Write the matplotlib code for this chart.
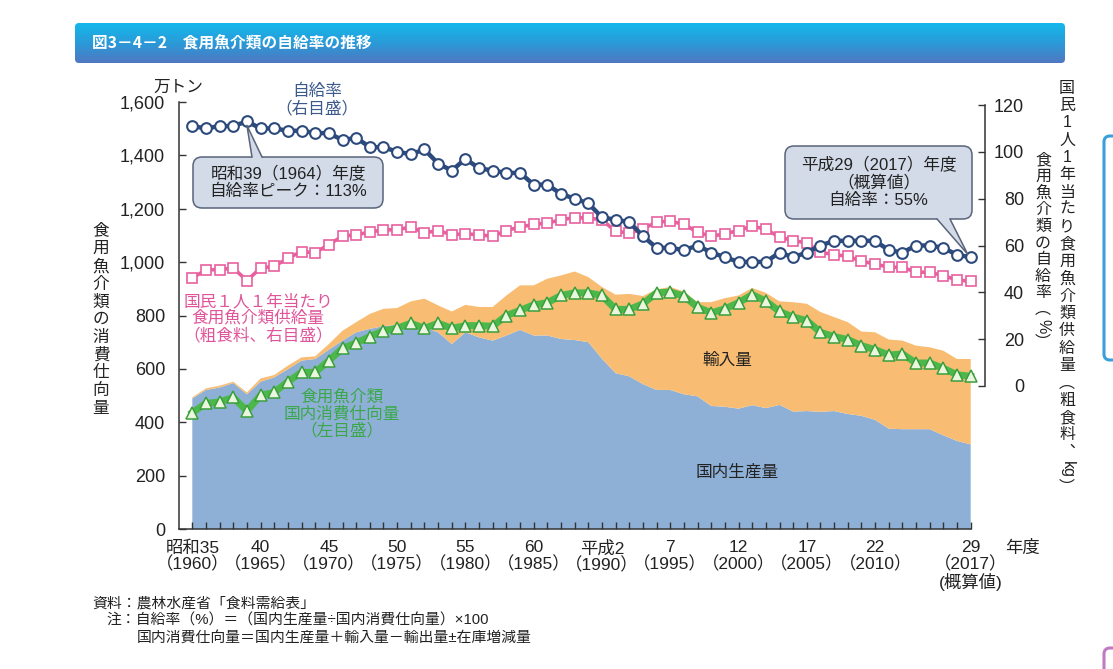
import numpy as np
import matplotlib
matplotlib.use('Agg')
import matplotlib.pyplot as plt
from matplotlib.patches import FancyBboxPatch, Polygon
from matplotlib.colors import LinearSegmentedColormap

plt.rcParams['font.family'] = ['Liberation Sans', 'Noto Sans CJK JP', 'DejaVu Sans']

# ---------------- data ----------------
years = list(range(1960, 2018))

# 国内生産量 (万トン)
production = [489, 521, 530, 547, 505, 552, 568, 599, 631, 637,
              672, 706, 737, 750, 760, 765, 762, 756, 737, 693,
              737, 718, 706, 725, 746, 725, 725, 712, 708, 700,
              638, 584, 572, 543, 521, 521, 505, 497, 461, 458,
              451, 464, 453, 465, 440, 442, 439, 442, 431, 424,
              409, 376, 374, 374, 374, 351, 330, 317]
# 輸入量 (stacked on production, 万トン)
imports = [4, 6, 7, 5, 7, 12, 9, 13, 12, 10,
           21, 37, 38, 56, 65, 63, 91, 107, 101, 122,
           103, 114, 126, 150, 167, 188, 213, 238, 257, 244,
           269, 294, 309, 330, 377, 386, 385, 353, 389, 407,
           424, 439, 432, 388, 410, 402, 374, 352, 344, 316,
           328, 334, 332, 313, 307, 317, 307, 320]
# 食用魚介類 国内消費仕向量 (万トン)
consumption = [436, 471, 476, 493, 442, 501, 512, 552, 587, 587,
               631, 677, 697, 721, 743, 752, 771, 752, 771, 752,
               762, 762, 760, 800, 819, 840, 848, 875, 885, 885,
               875, 823, 823, 844, 885, 888, 873, 831, 810, 825,
               848, 878, 854, 815, 794, 781, 737, 721, 710, 687,
               672, 652, 656, 622, 622, 602, 578, 572]
# 自給率 (%)
self_rate = [111, 110, 111, 111, 113, 110, 110, 109, 109, 108,
             108, 105, 106, 102, 102, 100, 99, 101, 95, 92,
             97, 93, 92, 91, 91, 86, 86, 82, 80, 78,
             72, 71, 70, 64, 59, 59, 58, 60, 57, 55,
             53, 53, 53, 57, 55, 57, 60, 62, 62, 62,
             62, 58, 57, 60, 60, 59, 56, 55]
# 国民1人1年当たり食用魚介類供給量 (粗食料, kg)
per_capita = [46.1, 49.6, 49.7, 50.4, 45.0, 50.4, 51.1, 54.6, 57.4, 56.9,
              60.4, 64.0, 64.6, 65.7, 66.7, 66.7, 67.9, 65.4, 66.4, 64.6,
              65.0, 64.6, 63.9, 66.4, 67.9, 69.0, 69.6, 71.0, 71.9, 71.7,
              71.0, 66.0, 65.4, 67.1, 70.0, 70.4, 69.0, 65.7, 63.9, 65.0,
              66.4, 68.3, 66.9, 63.6, 62.1, 61.1, 57.1, 56.1, 55.4, 53.3,
              52.1, 50.7, 50.7, 48.6, 48.6, 47.1, 45.3, 44.7]

label_years = [1960, 1965, 1970, 1975, 1980, 1985, 1990, 1995, 2000, 2005, 2010, 2017]
label_texts = ['昭和35\n（1960）', '40\n（1965）', '45\n（1970）', '50\n（1975）',
               '55\n（1980）', '60\n（1985）', '平成2\n（1990）', '7\n（1995）',
               '12\n（2000）', '17\n（2005）', '22\n（2010）', '29\n（2017）\n(概算値)']
left_ticks = [0, 200, 400, 600, 800, 1000, 1200, 1400, 1600]
right_ticks = [0, 20, 40, 60, 80, 100, 120]

# ---------------- colours ----------------
C_PROD = '#8fb0d6'
C_IMP = '#f8bd72'
C_GREEN = '#4cb84c'
C_GREEN_D = '#3a9e3c'
C_NAVY = '#2c4a7c'
C_PINK = '#e8609e'
C_TXT = '#222222'

W, H = 1113, 669
fig = plt.figure(figsize=(W / 100, H / 100), dpi=100)
fig.patch.set_facecolor('white')


def fx(x):
    return x / W


def fy(y):
    return 1 - y / H


# ---------------- background overlay (title bar, page decorations) ----------------
bg = fig.add_axes([0, 0, 1, 1], zorder=0)
bg.axis('off')
grad = np.linspace(0, 1, 64).reshape(-1, 1)
cmap = LinearSegmentedColormap.from_list('tb', ['#14b8ec', '#2a9ad8', '#4f78c2'])
im = bg.imshow(grad, cmap=cmap, extent=(75, 1065, 63, 23), aspect='auto', zorder=1)
bar = FancyBboxPatch((75, 23), 990, 40, boxstyle='round,pad=0,rounding_size=4',
                     facecolor='none', edgecolor='none')
bg.add_patch(bar)
im.set_clip_path(bar)
bg.add_patch(FancyBboxPatch((1104, 136), 40, 224, boxstyle='round,pad=0,rounding_size=6',
                            facecolor='white', edgecolor='#3aa0dc', lw=2.2))
bg.add_patch(FancyBboxPatch((1104, 648), 40, 80, boxstyle='round,pad=0,rounding_size=6',
                            facecolor='white', edgecolor='#c07ac4', lw=2.2))
bg.set_xlim(0, W)
bg.set_ylim(H, 0)
bg.text(92, 43, '図3－4－2　食用魚介類の自給率の推移', color='white', fontsize=11.3,
        fontweight='bold', va='center', ha='left', family=['Noto Sans CJK JP'])

# ---------------- main axes (left scale) ----------------
PITCH = 13.656
X0 = 1960 - (192.3 - 179) / PITCH
ax = fig.add_axes([fx(179), fy(529), (971 - 179) / W, (529 - 102) / H], zorder=1)
ax.set_facecolor('none')
ax.stackplot(years, production, imports, colors=[C_PROD, C_IMP], linewidth=0)
ax.plot(years, consumption, color=C_GREEN, lw=5, marker='^', ms=8.3,
        mfc='#eaf7de', mec=C_GREEN_D, mew=1.1, zorder=4, clip_on=False)
ax.set_xlim(X0, X0 + (971 - 179) / PITCH)
ax.set_ylim(0, 1600)
for s in ['top', 'right']:
    ax.spines[s].set_visible(False)
for s in ['left', 'bottom']:
    ax.spines[s].set_color('#333333')
    ax.spines[s].set_linewidth(1.1)
ax.set_yticks(left_ticks)
ax.set_yticklabels([f'{v:,}' for v in left_ticks])
ax.tick_params(axis='y', direction='in', length=5, width=1, pad=10, labelsize=13,
               labelcolor=C_TXT, color='#333333')
ax.set_xticks(label_years)
ax.set_xticklabels(label_texts, linespacing=1.05)
ax.set_xticks(years, minor=True)
ax.tick_params(axis='x', which='both', direction='in', length=5, width=1, color='#333333')
ax.tick_params(axis='x', which='major', pad=8, labelsize=12.5, labelcolor=C_TXT)

# ---------------- right-scale axes ----------------
ax2 = fig.add_axes([fx(179), fy(386), (985 - 179) / W, (386 - 105) / H], zorder=2)
ax2.set_facecolor('none')
ax2.plot(years, per_capita, color=C_PINK, lw=2.6, marker='s', ms=6.6, mfc='white',
         mec=C_PINK, mew=1.2, clip_on=False, zorder=3)
ax2.plot(years, self_rate, color=C_NAVY, lw=3.2, marker='o', ms=7.7, mfc='white',
         mec=C_NAVY, mew=1.5, clip_on=False, zorder=4)
ax2.set_xlim(X0, X0 + (985 - 179) / PITCH)
ax2.set_ylim(0, 120)
for s in ['top', 'left', 'bottom']:
    ax2.spines[s].set_visible(False)
ax2.spines['right'].set_color('#333333')
ax2.spines['right'].set_linewidth(1.1)
ax2.set_xticks([])
ax2.yaxis.tick_right()
ax2.set_yticks(right_ticks)
ax2.tick_params(axis='y', direction='in', length=5, width=1, pad=28, labelsize=13,
                labelcolor=C_TXT, color='#333333')
for lbl in ax2.get_yticklabels():
    lbl.set_ha('right')

# ---------------- top overlay (texts, callouts) ----------------
ov = fig.add_axes([0, 0, 1, 1], zorder=5)
ov.set_facecolor('none')
ov.axis('off')
ov.set_xlim(0, W)
ov.set_ylim(H, 0)


def to_px(axis, x, y):
    dx, dy = axis.transData.transform((x, y))
    return dx, H - dy


def vtext(x, y0, chars, pitch, rot=(), **kw):
    for i, c in enumerate(chars):
        ov.text(x, y0 + i * pitch, c, ha='center', va='center',
                rotation=-90 if i in rot else 0, **kw)


ov.text(178, 87, '万トン', fontsize=12, color=C_TXT, ha='center', va='center')
vtext(101, 231, list('食用魚介類の消費仕向量'), 17.7, fontsize=12, color=C_TXT)
col1 = list('国民1人1年当たり食用魚介類供給量') + ['︵', '粗', '食', '料', '︑', 'kg', '︶']
vtext(1067, 88, col1, 17.35, rot=(22,), fontsize=11.5, color=C_TXT)
col2 = list('食用魚介類の自給率') + ['︵', '%', '︶']
vtext(1043, 160, col2, 16.6, rot=(10,), fontsize=11.5, color=C_TXT)
ov.text(1022, 548, '年度', fontsize=12.5, color=C_TXT, ha='center', va='center')

ov.text(317, 100, '自給率\n（右目盛）', fontsize=12, color='#3d5a8c', ha='center',
        va='center', linespacing=1.1)
ov.text(258, 318, '国民１人１年当たり\n食用魚介類供給量\n（粗食料、右目盛）', fontsize=12,
        color='#e0559a', ha='center', va='center', linespacing=1.1)
ov.text(342, 414, '食用魚介類\n国内消費仕向量\n（左目盛）', fontsize=12,
        color='#3aa848', ha='center', va='center', linespacing=1.1)
ov.text(727, 360, '輸入量', fontsize=12, color=C_TXT, ha='center', va='center')
ov.text(737, 472, '国内生産量', fontsize=12, color=C_TXT, ha='center', va='center')

BOX_FC = '#d3dbe9'
BOX_EC = '#59647a'


def callout(x0, y0, w, h, text, tip, bx1, bx2, base_y, inward):
    ov.add_patch(FancyBboxPatch((x0, y0), w, h, boxstyle='round,pad=0,rounding_size=9',
                                facecolor=BOX_FC, edgecolor=BOX_EC, lw=1.1, zorder=3))
    ov.add_patch(Polygon([(bx1, base_y + inward), (bx1, base_y), tip, (bx2, base_y),
                          (bx2, base_y + inward)], closed=True, facecolor=BOX_FC,
                         edgecolor='none', zorder=4))
    ov.plot([bx1, tip[0], bx2], [base_y, tip[1], base_y], color=BOX_EC, lw=1.1, zorder=5)
    ov.text(x0 + w / 2, y0 + h / 2, text, ha='center', va='center', fontsize=12,
            color=C_TXT, linespacing=1.15, zorder=6)


peak_i = years.index(1964)
tip1 = to_px(ax2, 1964, self_rate[peak_i])
tip1 = (tip1[0], tip1[1] + 4)
callout(193, 157, 190, 51, '昭和39（1964）年度\n自給率ピーク：113%', tip1, 252, 262, 157, 2)

last_i = years.index(2017)
tip2 = to_px(ax2, 2017, self_rate[last_i])
tip2 = (tip2[0] - 3, tip2[1] - 3)
callout(785, 146, 187, 73, '平成29（2017）年度\n（概算値）\n自給率：55%', tip2, 937, 950, 219, -2)

# notes
NOTE_FS = 10.7
ov.text(92, 603, '資料：農林水産省「食料需給表」', fontsize=NOTE_FS, color=C_TXT,
        ha='left', va='center')
ov.text(106, 621, '注：自給率（%）＝（国内生産量÷国内消費仕向量）×100', fontsize=NOTE_FS,
        color=C_TXT, ha='left', va='center')
ov.text(137, 638, '国内消費仕向量＝国内生産量＋輸入量－輸出量±在庫増減量', fontsize=NOTE_FS,
        color=C_TXT, ha='left', va='center')

fig.savefig('out.png', dpi=100)
